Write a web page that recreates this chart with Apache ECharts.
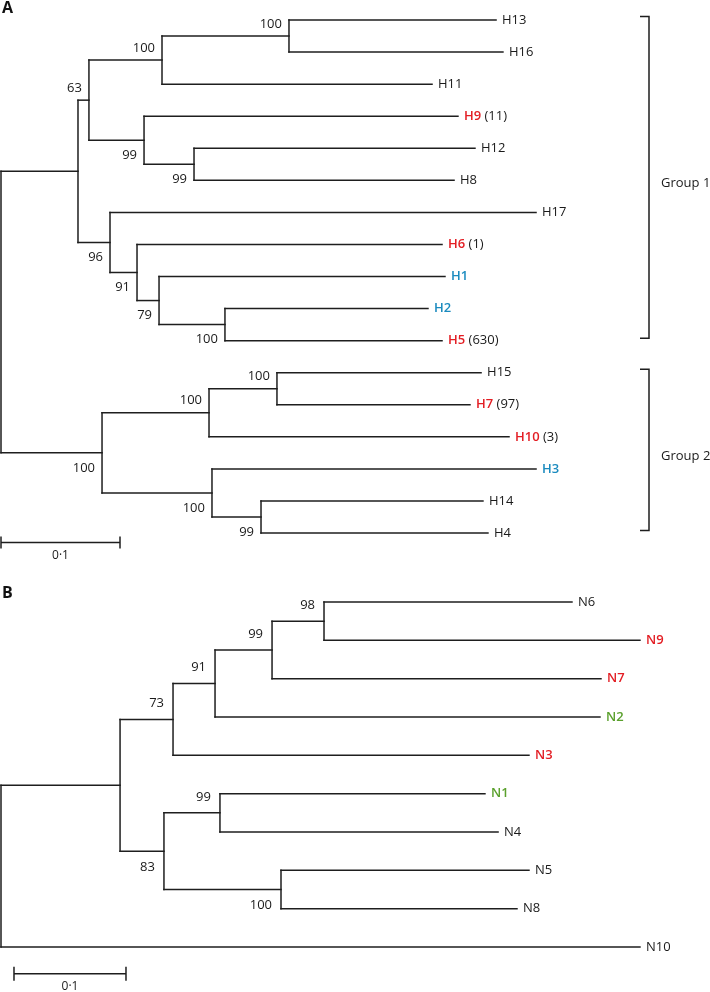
<!DOCTYPE html>
<html><head><meta charset="utf-8">
<script src="https://cdn.jsdelivr.net/npm/echarts@6/dist/echarts.min.js"></script>
<style>html,body{margin:0;padding:0;background:#fff}#c{width:710px;height:992px}</style>
</head><body><div id="c"></div>
<script>
// ---------- Tree A (H) : preorder nodes, parent, branch length, bootstrap ----------
const nodesA   = ['rA','g1','a63','a100a','a100b','H13','H16','H11','a99a','H9','a99b','H12','H8','a96','H17','a91','H6','a79','H1','a100c','H2','H5','g2','a100d','a100e','H15','H7','H10','a100f','H3','a99c','H14','H4'];
const parentsA = [null,'rA','g1','a63','a100a','a100b','a100b','a100a','a63','a99a','a99a','a99b','a99b','g1','a96','a96','a91','a91','a79','a79','a100c','a100c','rA','g2','a100d','a100e','a100e','a100d','g2','a100f','a100f','a99c','a99c'];
const branchA  = [0,0.0647,0.0092,0.0614,0.1067,0.174,0.1798,0.2269,0.0463,0.2638,0.042,0.2361,0.2185,0.0269,0.358,0.0227,0.2563,0.0185,0.2403,0.0554,0.1706,0.1824,0.0849,0.0899,0.0571,0.1715,0.1622,0.2521,0.0924,0.2723,0.0412,0.1865,0.1907];
const supportA = ['','','63','100','100','','','','99','','99','','','96','','91','','79','','100','','','100','100','100','','','','100','','99','',''];
const redTipsA   = ['H9','H6','H5','H7','H10'];
const blueTipsA  = ['H1','H2','H3'];
const countTipsA = ['H9','H6','H5','H7','H10'];
const countsA    = [11, 1, 630, 97, 3];
const groupNamesA = ['Group 1','Group 2'];
const groupFirstA = ['H13','H15'];
const groupLastA  = ['H5','H4'];
const scaleBarA = [0, 0.1, 16.3];   // x from, x to, y (tip rows)

// ---------- Tree B (N) ----------
const nodesB   = ['rB','bIn','b73','b91','b99','b98','N6','N9','N7','N2','N3','b83','b99b','N1','N4','b100','N5','N8','N10'];
const parentsB = [null,'rB','bIn','b73','b91','b99','b98','b98','b99','b91','b73','bIn','b83','b99b','b99b','b83','b100','b100','rB'];
const branchB  = [0,0.1063,0.0473,0.0375,0.0509,0.0464,0.2214,0.2821,0.2937,0.3437,0.3178,0.0392,0.05,0.2366,0.2483,0.1045,0.2214,0.2107,0.5705];
const supportB = ['','','73','91','99','98','','','','','','83','99','','','100','','',''];
const redTipsB   = ['N9','N7','N3'];
const greenTipsB = ['N2','N1'];
const scaleBarB = [0.0116, 0.1116, 9.7];
const scaleLabel = '0·1';

const RED = '#e31e24', BLUE = '#1b8bbf', GREEN = '#5aa02c', INK = '#1e1e1e';
const FONT = '"Open Sans", "Noto Sans", sans-serif';

function layout(nodes, parents, branch) {
  const idx = {}; nodes.forEach((k, i) => idx[k] = i);
  const n = nodes.length;
  const par = parents.map(p => p === null ? -1 : idx[p]);
  const children = nodes.map(() => []);
  par.forEach((p, i) => { if (p >= 0) children[p].push(i); });
  const x = new Array(n), y = new Array(n);
  for (let i = 0; i < n; i++) x[i] = par[i] < 0 ? branch[i] : x[par[i]] + branch[i];
  let t = 0;
  for (let i = 0; i < n; i++) if (!children[i].length) y[i] = t++;
  for (let i = n - 1; i >= 0; i--) {
    const c = children[i];
    if (c.length) y[i] = (y[c[0]] + y[c[c.length - 1]]) / 2;
  }
  return { idx, par, children, x, y };
}

function treeSeries(name, nodes, parents, branch, support, colorOf, countOf, gi, sup) {
  const L = layout(nodes, parents, branch);
  const data = nodes.map((k, i) => [L.x[i], L.y[i]]);
  return {
    type: 'custom', name, xAxisIndex: gi, yAxisIndex: gi, clip: false,
    data,
    renderItem: function (params, api) {
      const i = params.dataIndex;
      const els = [];
      const p = api.coord([L.x[i], L.y[i]]);
      const line = (a, b) => els.push({ type: 'line', shape: { x1: a[0], y1: a[1], x2: b[0], y2: b[1] },
        style: { stroke: INK, lineWidth: 1.5, lineCap: 'square' } });
      if (L.par[i] >= 0) line(api.coord([L.x[L.par[i]], L.y[i]]), p);
      const c = L.children[i];
      if (c.length) {
        line(api.coord([L.x[i], L.y[c[0]]]), api.coord([L.x[i], L.y[c[c.length - 1]]]));
        if (support[i]) {
          const parentKids = L.par[i] >= 0 ? L.children[L.par[i]] : [i];
          const upper = parentKids[0] === i;
          els.push({ type: 'text', x: p[0] - sup.gap, y: p[1] + (upper ? sup.up : sup.down),
            style: { text: support[i], fill: '#1a1a1a', font: '13px ' + FONT,
              align: 'right', textAlign: 'right', verticalAlign: 'middle', textVerticalAlign: 'middle' } });
        }
      } else {
        const nm = nodes[i];
        const col = colorOf(nm);
        const cnt = countOf(nm);
        els.push({ type: 'text', x: p[0] + 6, y: p[1],
          style: { text: '{n|' + nm + '}' + (cnt ? ' {c|' + cnt + '}' : ''), font: '13px ' + FONT, fill: '#1a1a1a',
            align: 'left', textAlign: 'left', verticalAlign: 'middle', textVerticalAlign: 'middle',
            rich: { n: { fill: col, font: (col === '#1a1a1a' ? '' : '600 ') + '13px ' + FONT },
                    c: { fill: '#1a1a1a', font: '13px ' + FONT } } } });
      }
      return { type: 'group', children: els };
    }
  };
}

function scaleSeries(bar, gi, tick, labelDy) {
  return {
    type: 'custom', xAxisIndex: gi, yAxisIndex: gi, clip: false, data: [bar],
    renderItem: function (params, api) {
      const a = api.coord([bar[0], bar[2]]), b = api.coord([bar[1], bar[2]]);
      const st = { stroke: INK, lineWidth: 1.5 };
      return { type: 'group', children: [
        { type: 'line', shape: { x1: a[0], y1: a[1], x2: b[0], y2: b[1] }, style: st },
        { type: 'line', shape: { x1: a[0], y1: a[1] - tick, x2: a[0], y2: a[1] + tick }, style: st },
        { type: 'line', shape: { x1: b[0], y1: b[1] - tick, x2: b[0], y2: b[1] + tick }, style: st },
        { type: 'text', x: (a[0] + b[0]) / 2, y: a[1] + labelDy,
          style: { text: scaleLabel, fill: '#1a1a1a', font: '12px ' + FONT, align: 'center', textAlign: 'center',
                   verticalAlign: 'middle', textVerticalAlign: 'middle' } }
      ] };
    }
  };
}

const LA = layout(nodesA, parentsA, branchA);
const groupSeries = {
  type: 'custom', xAxisIndex: 0, yAxisIndex: 0, clip: false,
  data: groupNamesA.map((g, k) => [LA.y[LA.idx[groupFirstA[k]]], LA.y[LA.idx[groupLastA[k]]]]),
  renderItem: function (params, api) {
    const k = params.dataIndex;
    const t = api.coord([0, LA.y[LA.idx[groupFirstA[k]]]])[1] - 3.5;
    const b = api.coord([0, LA.y[LA.idx[groupLastA[k]]]])[1] - 2.5;
    const X = 649, st = { stroke: INK, lineWidth: 1.5 };
    return { type: 'group', children: [
      { type: 'polyline', shape: { points: [[X - 9, t], [X, t], [X, b], [X - 9, b]] }, style: Object.assign({ fill: null }, st) },
      { type: 'text', x: X + 12, y: (t + b) / 2 + 6,
        style: { text: groupNamesA[k], fill: '#1a1a1a', font: '13px ' + FONT, align: 'left', textAlign: 'left',
                 verticalAlign: 'middle', textVerticalAlign: 'middle' } }
    ] };
  }
};

const colorA = nm => redTipsA.includes(nm) ? RED : blueTipsA.includes(nm) ? BLUE : '#1a1a1a';
const countA = nm => { const k = countTipsA.indexOf(nm); return k >= 0 ? '(' + countsA[k] + ')' : ''; };
const colorB = nm => redTipsB.includes(nm) ? RED : greenTipsB.includes(nm) ? GREEN : '#1a1a1a';
const countB = nm => '';

const chart = echarts.init(document.getElementById('c'), null, { renderer: 'canvas' });
chart.setOption({
  animation: false,
  backgroundColor: '#fff',
  grid: [
    { left: 1, top: 20, width: 595, height: 513 },
    { left: 1, top: 602, width: 672, height: 345 }
  ],
  xAxis: [
    { type: 'value', gridIndex: 0, min: 0, max: 0.5, show: false },
    { type: 'value', gridIndex: 1, min: 0, max: 0.6, show: false }
  ],
  yAxis: [
    { type: 'value', gridIndex: 0, min: 0, max: 16, inverse: true, show: false },
    { type: 'value', gridIndex: 1, min: 0, max: 9, inverse: true, show: false }
  ],
  graphic: [
    { type: 'text', left: 2, top: 0, style: { text: 'A', font: 'bold 16px ' + FONT, fill: '#111' } },
    { type: 'text', left: 2, top: 585, style: { text: 'B', font: 'bold 16px ' + FONT, fill: '#111' } }
  ],
  series: [
    treeSeries('A', nodesA, parentsA, branchA, supportA, colorA, countA, 0, { gap: 7, up: -12, down: 15 }),
    treeSeries('B', nodesB, parentsB, branchB, supportB, colorB, countB, 1, { gap: 9, up: -16, down: 16 }),
    groupSeries,
    scaleSeries(scaleBarA, 0, 6, 13),
    scaleSeries(scaleBarB, 1, 7, 13)
  ]
});
</script>
</body></html>
